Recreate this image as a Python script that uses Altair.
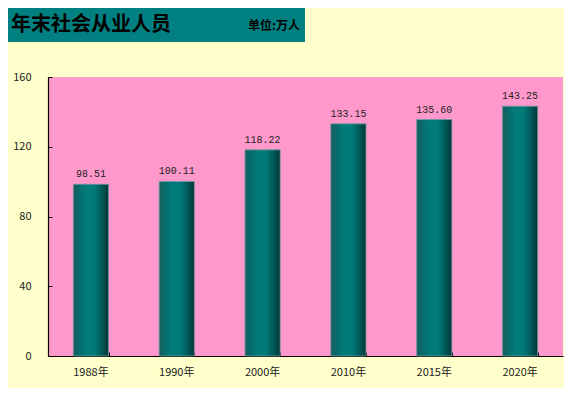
import altair as alt
import pandas as pd

years = ["1988年", "1990年", "2000年", "2010年", "2015年", "2020年"]
values = [98.51, 100.11, 118.22, 133.15, 135.60, 143.25]
labels = ["98.51", "100.11", "118.22", "133.15", "135.60", "143.25"]
y_ticks = [0, 40, 80, 120, 160]
title_text = "年末社会从业人员"
unit_text = "单位:万人"

df = pd.DataFrame({"year": years, "value": values, "label": labels})

W, H = 515, 279

xscale = alt.Scale(domain=years, paddingInner=0.59, paddingOuter=0.295)
yscale = alt.Scale(domain=[0, 160], nice=False)

grad = alt.Gradient(
    gradient="linear", x1=0, x2=1, y1=0, y2=0,
    stops=[
        alt.GradientStop(color="#1d5c5c", offset=0),
        alt.GradientStop(color="#0a6868", offset=0.12),
        alt.GradientStop(color="#007c7a", offset=0.38),
        alt.GradientStop(color="#007a78", offset=0.6),
        alt.GradientStop(color="#005252", offset=0.85),
        alt.GradientStop(color="#053535", offset=1),
    ],
)

bars = alt.Chart(df).mark_bar(color=grad, stroke="#6e9aa4", strokeWidth=0.8).encode(
    x=alt.X("year:N", scale=xscale, sort=years, title=None,
            axis=alt.Axis(labelAngle=0, ticks=False, domainColor="#000000",
                          domainWidth=1.2, labelPadding=10, labelFontSize=11,
                          labelColor="#222222", labelFont="Noto Sans CJK SC")),
    y=alt.Y("value:Q", scale=yscale, title=None,
            axis=alt.Axis(values=y_ticks, ticks=False, grid=False, domainColor="#000000",
                          domainWidth=1.2, labelPadding=17, labelFontSize=11,
                          labelColor="#222222", labelFont="Noto Sans CJK SC")),
)

text = alt.Chart(df).mark_text(baseline="bottom", dy=-5, font="Liberation Mono",
                               fontSize=10, color="#222222").encode(
    x=alt.X("year:N", scale=xscale, sort=years, title=None,
            axis=alt.Axis(orient="top", offset=-H, labels=False, domain=False,
                          tickBand="extent", tickSize=4, tickColor="#000000")),
    y=alt.Y("value:Q", scale=yscale, title=None,
            axis=alt.Axis(orient="right", offset=-W, labels=False, domain=False,
                          values=y_ticks, grid=False, tickSize=4, tickColor="#000000")),
    text="label:N",
)

hdr = pd.DataFrame({"t": [title_text], "u": [unit_text]})
header = alt.Chart(hdr).mark_rect(color="#008080").encode(
    x=alt.value(-40), x2=alt.value(257), y=alt.value(-69), y2=alt.value(-35)
)
title = alt.Chart(hdr).mark_text(align="left", baseline="alphabetic", fontSize=20,
                                 fontWeight="bold", font="Noto Sans CJK SC",
                                 color="#000000").encode(
    x=alt.value(-37), y=alt.value(-46), text="t:N")
unit = alt.Chart(hdr).mark_text(align="right", baseline="alphabetic", fontSize=12,
                                fontWeight="bold", font="Noto Sans CJK SC",
                                color="#000000").encode(
    x=alt.value(252), y=alt.value(-47), text="u:N")

chart = alt.layer(bars, text, header, title, unit).resolve_axis(
    x="independent", y="independent"
).properties(
    width=W, height=H,
    background="#FFFFCC",
    padding={"left": 40, "top": 69, "right": 1, "bottom": 32},
    autosize=alt.AutoSizeParams(type="none"),
).configure_view(fill="#FF99CC", stroke=None)

chart.save("out.html", embed_options={"renderer": "svg", "actions": False})
